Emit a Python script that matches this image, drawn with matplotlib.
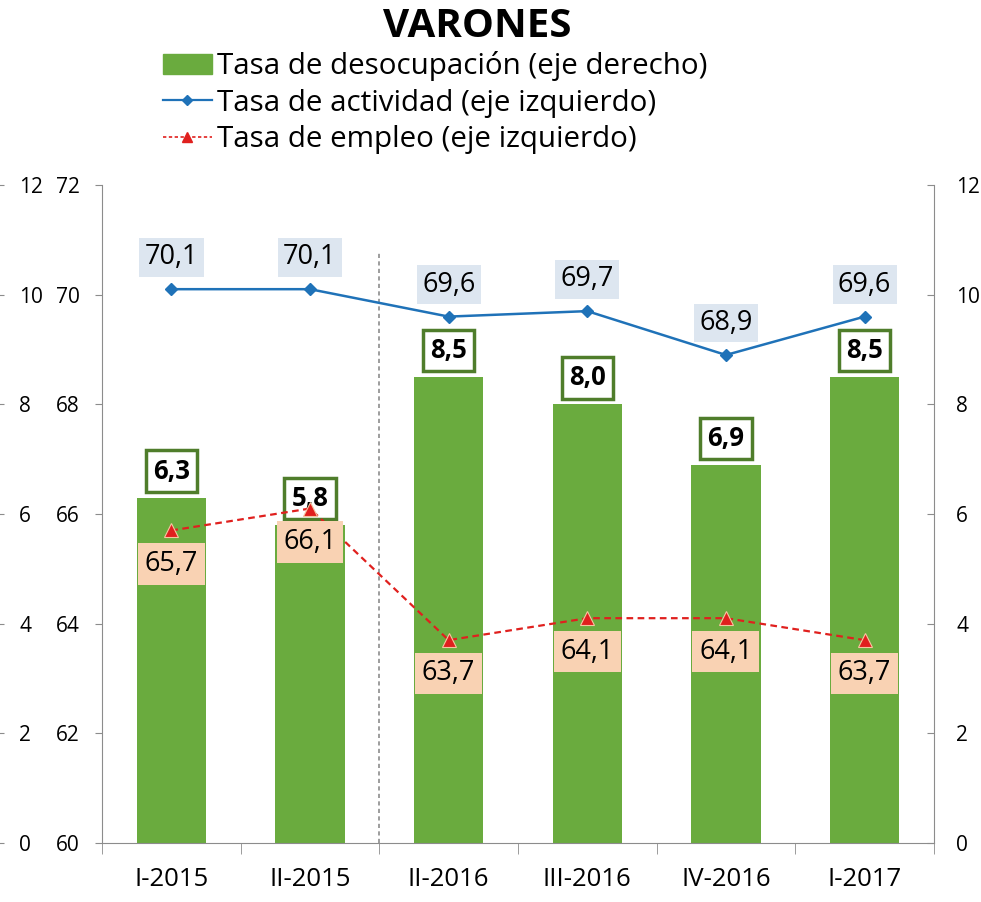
import numpy as np
import matplotlib
matplotlib.use("Agg")
import matplotlib.pyplot as plt
from matplotlib.lines import Line2D
from matplotlib.patches import Patch

plt.rcParams['font.family'] = ['Open Sans', 'DejaVu Sans']

categorias = ['I-2015', 'II-2015', 'II-2016', 'III-2016', 'IV-2016', 'I-2017']
desocupacion = [6.3, 5.8, 8.5, 8.0, 6.9, 8.5]
actividad = [70.1, 70.1, 69.6, 69.7, 68.9, 69.6]
empleo = [65.7, 66.1, 63.7, 64.1, 64.1, 63.7]

verde = '#6aab3e'
verde_osc = '#4f7d2b'
azul = '#1f72b8'
rojo = '#e0201e'
gris = '#8c8c8c'

fig = plt.figure(figsize=(9.81, 9.02), dpi=100)
ax = fig.add_axes([0.104, 0.0654, 0.848, 0.7295])
axr = ax.twinx()
axo = ax.twinx()
ax.set_zorder(axr.get_zorder() + 1)
ax.patch.set_visible(False)

x = np.arange(len(categorias))

# barras (eje derecho)
axr.bar(x, desocupacion, width=0.5, color=verde, zorder=2)
axr.set_ylim(0, 12)
axr.set_yticks(range(0, 13, 2))
for xi, v in zip(x, desocupacion):
    axr.annotate(f'{v:.1f}'.replace('.', ','), (xi, v), xytext=(0, 19),
                 textcoords='offset points', ha='center', va='center',
                 fontsize=18.5, fontweight='bold',
                 bbox=dict(boxstyle='square,pad=0.28', fc='white', ec=verde_osc, lw=2.5))

# lineas (eje izquierdo)
ax.plot(x, actividad, color=azul, lw=1.8, marker='D', ms=6, zorder=5)
ax.plot(x, empleo, color=rojo, lw=1.6, ls=(0, (3, 2)), marker='^', ms=10,
        mec='#f6c6a0', mew=0.8, zorder=5)
ax.set_ylim(60, 72)
ax.set_xlim(-0.5, len(categorias) - 0.5)
ax.set_yticks(range(60, 73, 2))
for xi, v in zip(x, actividad):
    ax.annotate(f'{v:.1f}'.replace('.', ','), (xi, v), xytext=(0, 23),
                textcoords='offset points', ha='center', va='center', fontsize=19.5,
                bbox=dict(boxstyle='square,pad=0.2', fc='#dde6f0', ec='none'), zorder=6)
for xi, v in zip(x, empleo):
    ax.annotate(f'{v:.1f}'.replace('.', ','), (xi, v), xytext=(0, -24),
                textcoords='offset points', ha='center', va='center', fontsize=19.5,
                bbox=dict(boxstyle='square,pad=0.25', fc='#f9d2b3', ec='none'), zorder=6)

ax.plot([1.5, 1.5], [60, 70.8], color=gris, lw=1.2, ls=(0, (2.5, 2)), zorder=1)

# ejes
ax.set_xticks(x)
ax.set_xticklabels(categorias, fontsize=18.5)
ax.set_xticks(np.arange(-0.5, len(categorias)), minor=True)
ax.tick_params(axis='x', which='major', length=0, pad=17)
ax.tick_params(axis='x', which='minor', length=8, color=gris, direction='out')
ax.tick_params(axis='y', labelsize=15, length=5, color=gris, direction='out', pad=11)
axr.tick_params(axis='y', labelsize=15, length=5, color=gris, direction='in', pad=16)

# eje exterior izquierdo (0-12), etiquetas a la derecha de su linea
axo.set_ylim(0, 12)
axo.set_yticks(range(0, 13, 2))
axo.spines['right'].set_position(('axes', -0.118))
axo.tick_params(axis='y', labelsize=15, length=5, color=gris, direction='in', pad=11)

for a in (ax, axr, axo):
    for s in a.spines.values():
        s.set_visible(False)
ax.spines['left'].set_visible(True)
ax.spines['left'].set_color(gris)
ax.spines['bottom'].set_visible(True)
ax.spines['bottom'].set_color(gris)
axr.spines['right'].set_visible(True)
axr.spines['right'].set_color(gris)

fig.text(0.487, 0.971, 'VARONES', ha='center', va='center', fontsize=29, fontweight='bold')

handles = [
    Patch(color=verde),
    Line2D([], [], color=azul, lw=1.6, marker='D', ms=5),
    Line2D([], [], color=rojo, lw=1.2, ls=(0, (2, 1.5)), marker='^', ms=7),
]
labels = ['Tasa de desocupación (eje derecho)', 'Tasa de actividad (eje izquierdo)',
          'Tasa de empleo (eje izquierdo)']
fig.legend(handles, labels, loc='upper left', bbox_to_anchor=(0.166, 0.943), frameon=False,
           fontsize=21.3, handlelength=1.65, handletextpad=0.17, labelspacing=0.25,
           borderpad=0, borderaxespad=0)

fig.savefig('out.png', dpi=100)
